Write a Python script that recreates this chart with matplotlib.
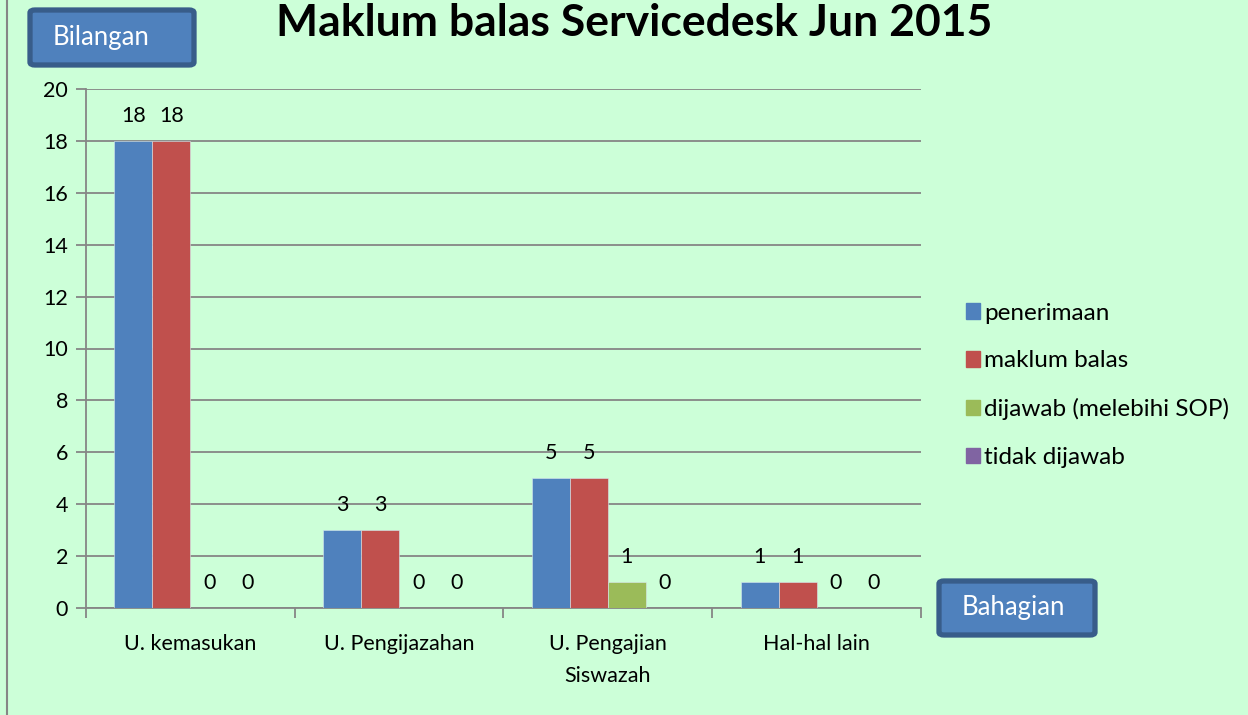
import matplotlib
matplotlib.use("Agg")
import matplotlib.pyplot as plt
from matplotlib.patches import FancyBboxPatch
from matplotlib.lines import Line2D
import numpy as np

categories = ["U. kemasukan", "U. Pengijazahan", "U. Pengajian\nSiswazah", "Hal-hal lain"]
series_names = ["penerimaan", "maklum balas", "dijawab (melebihi SOP)", "tidak dijawab"]
penerimaan = [18, 3, 5, 1]
maklum_balas = [18, 3, 5, 1]
dijawab_melebihi = [0, 0, 1, 0]
tidak_dijawab = [0, 0, 0, 0]
series_values = [penerimaan, maklum_balas, dijawab_melebihi, tidak_dijawab]
colors = ["#4F81BD", "#C0504D", "#9BBB59", "#8064A2"]
yticks = [0, 2, 4, 6, 8, 10, 12, 14, 16, 18, 20]

bg = "#CCFFD8"
plt.rcParams['font.family'] = ['Lato', 'DejaVu Sans']

W, H = 1248, 715
fig = plt.figure(figsize=(W / 100, H / 100), dpi=100, facecolor=bg)
ax = fig.add_axes([86 / W, 1 - 608 / H, (921 - 86) / W, (608 - 89) / H])
ax.set_facecolor(bg)

n = len(categories)
x = np.arange(n)
bw = 0.182
for i, (vals, c) in enumerate(zip(series_values, colors)):
    pos = x + (i - 1.5) * bw
    ax.bar(pos, vals, width=bw, color=c, edgecolor="#d8e8f0", linewidth=0.4,
           label=series_names[i], zorder=3)
    for p, v in zip(pos, vals):
        ax.annotate(str(v), (p, v), xytext=(0, 18), textcoords="offset points",
                    ha="center", va="center", fontsize=15.5, color="#000000")

ax.set_xlim(-0.5, n - 0.5)
ax.set_ylim(0, 20)
ax.set_yticks(yticks)
ax.yaxis.grid(True, color="#868686", linewidth=1.3, zorder=0)
ax.set_axisbelow(True)
ax.set_xticks(np.arange(-0.5, n, 1.0))
ax.set_xticklabels([])
ax.set_xticks(x, minor=True)
ax.set_xticklabels(categories, minor=True, fontsize=15.5, linespacing=1.75)
ax.tick_params(axis="x", which="minor", length=0, pad=19)
ax.tick_params(axis="x", which="major", length=7, color="#868686", width=1.3)
ax.tick_params(axis="y", length=7, color="#868686", width=1.3, labelsize=15.5, pad=6)
for s in ["top", "right"]:
    ax.spines[s].set_visible(False)
for s in ["left", "bottom"]:
    ax.spines[s].set_color("#868686")
    ax.spines[s].set_linewidth(1.3)

# Title
fig.text(634 / W, 1 - 23 / H, "Maklum balas Servicedesk Jun 2015", ha="center", va="center",
         fontsize=32, fontweight="bold", color="#000000")

# Boxes
def box(x0, y0, x1, y1, label, tx):
    p = FancyBboxPatch((x0 / W, 1 - y1 / H), (x1 - x0) / W, (y1 - y0) / H,
                       boxstyle="round,pad=0,rounding_size=0.004",
                       transform=fig.transFigure, facecolor="#4F81BD",
                       edgecolor="#385D8A", linewidth=3.8, zorder=5)
    fig.patches.append(p)
    fig.text(tx / W, 1 - (y0 + y1) / 2 / H, label, ha="center", va="center",
             color="white", fontsize=18.5, zorder=6)

box(30, 10, 194, 65, "Bilangan", 101)
box(939, 581, 1095, 635, "Bahagian", 1013)

# Legend
handles = [plt.Rectangle((0, 0), 1, 1, color=c) for c in colors]
fig.legend(handles, series_names, loc="upper left", bbox_to_anchor=(956 / W, 1 - 293 / H),
           frameon=False, fontsize=17.5, handlelength=0.6, handleheight=0.6,
           handletextpad=0.15, labelspacing=1.1, borderaxespad=0)

# Left border line
fig.add_artist(Line2D([7 / W, 7 / W], [0, 1], transform=fig.transFigure,
                      color="#868686", linewidth=1.5))

fig.savefig("out.png", dpi=100, facecolor=bg)
